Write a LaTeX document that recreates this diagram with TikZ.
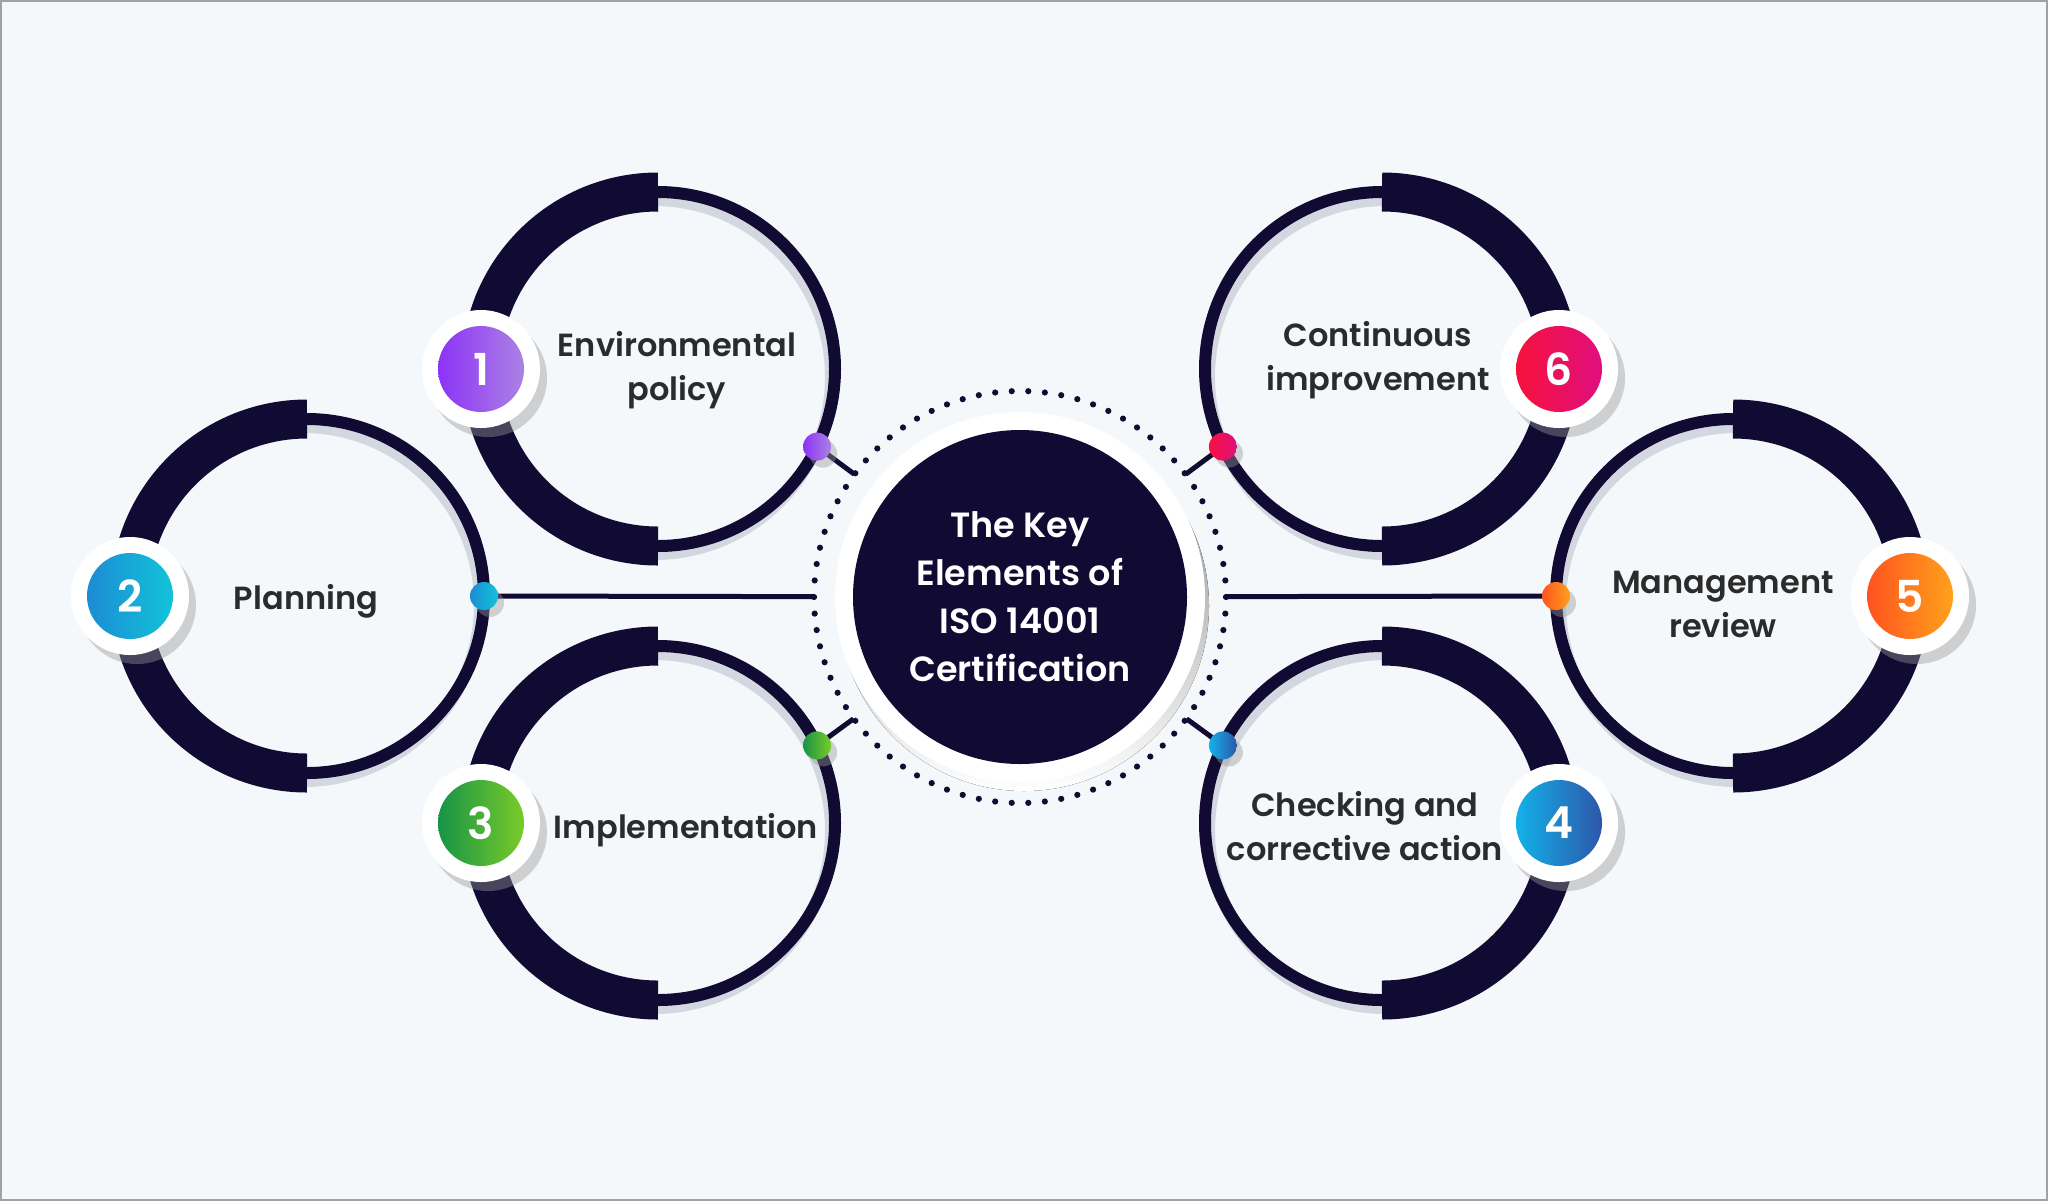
\documentclass[tikz,border=0pt]{standalone}
\usepackage{fontspec}
\setmainfont{Poppins}[UprightFont=* Medium, BoldFont=* SemiBold]

\definecolor{navy}{HTML}{110A33}
\definecolor{ink}{HTML}{2B2B2B}
\definecolor{paper}{HTML}{F4F8FB}
\definecolor{rim}{HTML}{9EA2A6}
\definecolor{shade}{HTML}{D3D8E0}
\definecolor{smoke}{HTML}{989898}
\definecolor{violetA}{HTML}{8C33F6}
\definecolor{violetB}{HTML}{AC82E4}
\definecolor{blueA}{HTML}{1C8CD4}
\definecolor{blueB}{HTML}{12C3D9}
\definecolor{greenA}{HTML}{169447}
\definecolor{greenB}{HTML}{7ACB28}
\definecolor{skyA}{HTML}{12B2EA}
\definecolor{skyB}{HTML}{2D56A9}
\definecolor{orangeA}{HTML}{FF531F}
\definecolor{orangeB}{HTML}{FFA21C}
\definecolor{redA}{HTML}{F7123C}
\definecolor{redB}{HTML}{DF0F7E}

\begin{document}
\begin{tikzpicture}[x=0.5pt, y=-0.5pt,
    thin ring/.style={draw=navy, line width=6pt},
    thick arc/.style={draw=navy, line width=19.5pt},
    ring shade/.style={draw=shade, line width=6pt},
    link/.style={draw=navy, line width=2.5pt},
    drop/.style={fill=smoke, fill opacity=0.42},
    holder/.style={circle, fill=white, minimum size=59pt, inner sep=0pt},
    number/.style={circle, minimum size=43pt, inner sep=0pt, text=white,
      font=\fontsize{22}{22}\selectfont\bfseries},
    knob/.style={circle, minimum size=14pt, inner sep=0pt},
    caption/.style={align=center, text=ink, font=\fontsize{16}{22}\selectfont\bfseries}]

      \useasboundingbox (0,0) rectangle (2048,1201);
      \fill[paper] (0,0) rectangle (2048,1201);
      \draw[rim, line width=1pt] (1,1) rectangle (2047,1200);

      % centre
      \coordinate (mid) at (1020,597);
      \fill[shade] (1024,606) circle[radius=185];
      \fill[white] (mid) circle[radius=185];
      \foreach \i in {0,...,77}
        \fill[navy] (mid) ++({\i*4.61538}:206) circle[radius=3.1];
      \node[circle, minimum size=206pt, inner sep=0pt] (dots) at (mid) {};
      \node[circle, fill=navy, minimum size=167pt, inner sep=0pt, text=white,
        align=center, font=\fontsize{17.5}{24}\selectfont\bfseries] (core) at (mid)
        {The Key\\Elements of\\ISO 14001\\Certification};

      % rings: number/x/y/badge angle/knob angle/colours
      \foreach \n/\x/\y/\b/\k/\ca/\cb in {
          1/658/369/180/26/violetA/violetB,
          2/307/596/180/0/blueA/blueB,
          3/658/823/180/-26/greenA/greenB,
          4/1382/823/0/206/skyA/skyB,
          5/1733/596/0/180/orangeA/orangeB,
          6/1382/369/0/154/redA/redB}{
        \coordinate (c\n) at (\x,\y);
        \path (c\n) ++(\k:177) coordinate (k\n);
        \path (c\n) ++(\b:177) coordinate (b\n);
        \draw[ring shade] ({\x+4*cos(\b)},\y+8) circle[radius=177];
        \draw[thin ring] (c\n) circle[radius=177];
        \draw[thick arc] (c\n) ++(\b-90:177)
          arc[start angle=\b-90, end angle=\b+90, radius=177];
        \draw[link] (k\n) -- (dots);
        \fill[drop] (b\n) ++(7,9) circle[radius=59];
        \node[holder] at (b\n) {};
        \node[number, left color=\ca, right color=\cb] (n\n) at (b\n) {\n};
        \fill[drop] (k\n) ++(6,7) circle[radius=14];
        \node[knob, left color=\ca, right color=\cb] (d\n) at (k\n) {};
      }

      \node[caption] (t1) at (677,370) {Environmental\\policy};
      \node[caption] (t2) at (306,601) {Planning};
      \node[caption] (t3) at (686,830) {Implementation};
      \node[caption] (t4) at (1365,826) {Checking and\\corrective action};
      \node[caption] (t5) at (1723,604) {Management\\review};
      \node[caption] (t6) at (1378,360) {Continuous\\improvement};
\end{tikzpicture}
\end{document}
